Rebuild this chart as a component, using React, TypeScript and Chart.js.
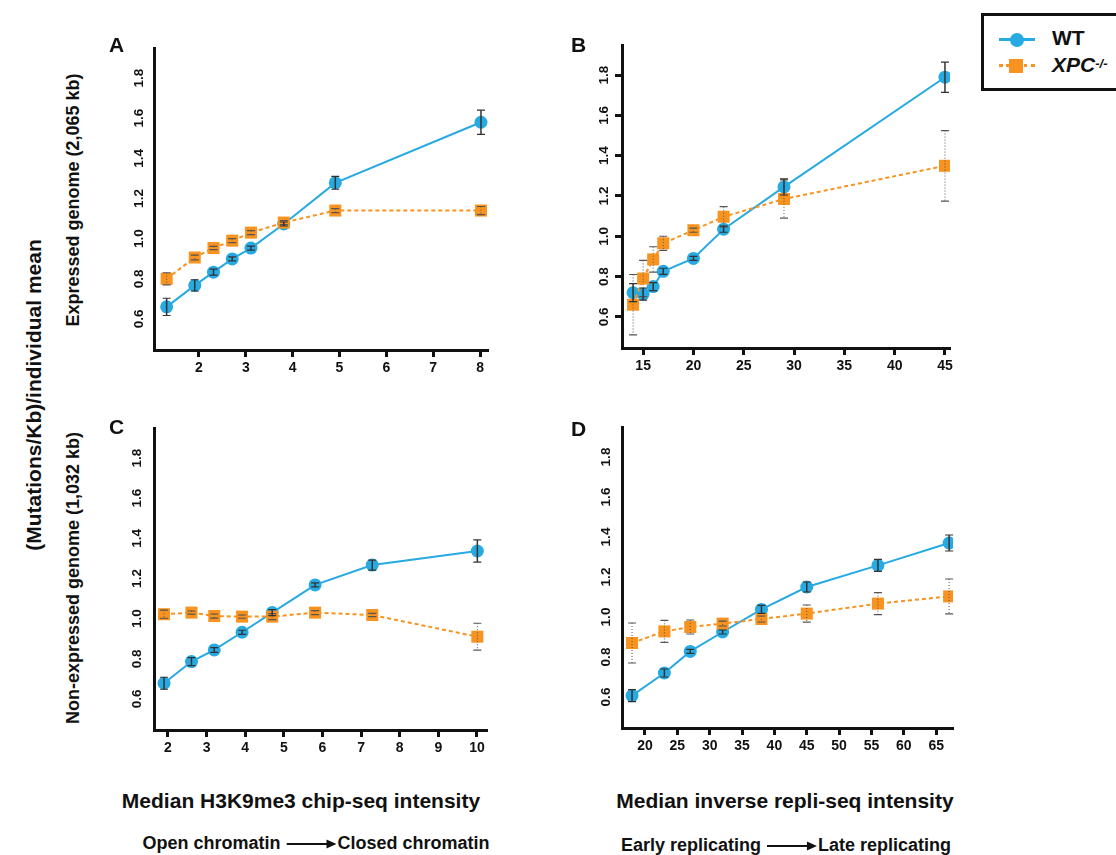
import React, { useEffect, useRef } from 'react';
import { Chart, registerables } from 'chart.js';

Chart.register(...registerables);

const WT_COLOR = '#27A9E1';
const XPC_COLOR = '#F7931E';
const FONT = '"Liberation Sans", Arial, Helvetica, sans-serif';

// ---------- data ----------
const yTicks = [0.6, 0.8, 1.0, 1.2, 1.4, 1.6, 1.8];

// Panel A: H3K9me3, expressed genome
const aX = [1.31, 1.91, 2.31, 2.71, 3.11, 3.81, 4.91, 8.02];
const aWT = [0.66, 0.767, 0.833, 0.899, 0.953, 1.073, 1.278, 1.58];
const aWTErr = [0.043, 0.028, 0.015, 0.01, 0.01, 0.01, 0.032, 0.06];
const aXPC = [0.8, 0.906, 0.953, 0.99, 1.03, 1.08, 1.14, 1.14];
const aXPCErr = [0.03, 0.012, 0.008, 0.01, 0.01, 0.01, 0.01, 0.02];
const aXTicks = [2, 3, 4, 5, 6, 7, 8];

// Panel B: repli-seq, expressed genome
const bX = [14, 15, 16, 17, 20, 23, 29, 45];
const bWT = [0.72, 0.713, 0.75, 0.826, 0.89, 1.035, 1.245, 1.79];
const bWTErr = [0.045, 0.03, 0.02, 0.015, 0.01, 0.015, 0.04, 0.075];
const bXPC = [0.66, 0.79, 0.885, 0.965, 1.03, 1.097, 1.185, 1.35];
const bXPCErr = [0.15, 0.09, 0.063, 0.035, 0.01, 0.05, 0.095, 0.175];
const bXTicks = [15, 20, 25, 30, 35, 40, 45];

// Panel C: H3K9me3, non-expressed genome
const cX = [1.9, 2.61, 3.2, 3.92, 4.7, 5.81, 7.29, 10.01];
const cWT = [0.678, 0.786, 0.844, 0.932, 1.03, 1.168, 1.267, 1.337];
const cWTErr = [0.03, 0.02, 0.012, 0.01, 0.015, 0.01, 0.025, 0.055];
const cXPC = [1.022, 1.03, 1.013, 1.01, 1.01, 1.03, 1.018, 0.91];
const cXPCErr = [0.02, 0.008, 0.01, 0.008, 0.015, 0.01, 0.008, 0.067];
const cXTicks = [2, 3, 4, 5, 6, 7, 8, 9, 10];

// Panel D: repli-seq, non-expressed genome
const dX = [18, 23, 27, 32, 38, 45, 56, 67];
const dWT = [0.607, 0.72, 0.828, 0.925, 1.038, 1.15, 1.258, 1.37];
const dWTErr = [0.03, 0.02, 0.01, 0.01, 0.02, 0.025, 0.03, 0.04];
const dXPC = [0.87, 0.928, 0.95, 0.967, 0.99, 1.017, 1.067, 1.103];
const dXPCErr = [0.1, 0.055, 0.035, 0.012, 0.015, 0.043, 0.055, 0.087];
const dXTicks = [20, 25, 30, 35, 40, 45, 50, 55, 60, 65];

// ---------- error bar plugin ----------
const errorBarPlugin = {
  id: 'errorBars',
  afterDatasetsDraw(chart: any) {
    const ctx = chart.ctx;
    const ys = chart.scales.y;
    chart.data.datasets.forEach((ds: any, i: number) => {
      const meta = chart.getDatasetMeta(i);
      const errs = ds.errors;
      if (!errs) return;
      ctx.save();
      meta.data.forEach((pt: any, j: number) => {
        const v = ds.data[j].y;
        const e = errs[j];
        const x = pt.x;
        const y1 = ys.getPixelForValue(v + e);
        const y2 = ys.getPixelForValue(v - e);
        ctx.strokeStyle = ds.errorColor;
        ctx.lineWidth = ds.errorWidth;
        ctx.setLineDash(ds.errorDash);
        ctx.beginPath();
        ctx.moveTo(x, y1);
        ctx.lineTo(x, y2);
        ctx.stroke();
        ctx.setLineDash([]);
        ctx.lineWidth = 1.2;
        ctx.beginPath();
        ctx.moveTo(x - 4, y1);
        ctx.lineTo(x + 4, y1);
        ctx.moveTo(x - 4, y2);
        ctx.lineTo(x + 4, y2);
        ctx.stroke();
      });
      ctx.restore();
    });
  },
};

type PanelProps = {
  area: { left: number; top: number; right: number; bottom: number };
  xs: number[];
  wt: number[];
  wtErr: number[];
  xpc: number[];
  xpcErr: number[];
  xMin: number;
  xMax: number;
  xTicks: number[];
  yTickMarks: boolean;
  yLabelPad: number;
};

const PAD_TOP = 20;
const PAD_RIGHT = 15;
const Y_W = 54;
const X_H = 35;

function Panel(p: PanelProps) {
  const ref = useRef<HTMLCanvasElement>(null);
  const w = p.area.right - p.area.left + Y_W + PAD_RIGHT;
  const h = p.area.bottom - p.area.top + PAD_TOP + X_H;
  useEffect(() => {
    if (!ref.current) return;
    const chart = new Chart(ref.current, {
      type: 'line',
      data: {
        datasets: [
          {
            label: 'XPC-/-',
            data: p.xs.map((x, i) => ({ x, y: p.xpc[i] })),
            borderColor: XPC_COLOR,
            backgroundColor: XPC_COLOR,
            borderWidth: 2,
            borderDash: [4, 3],
            pointStyle: 'rect',
            pointRadius: 8.5,
            pointBorderWidth: 0,
            pointBackgroundColor: XPC_COLOR,
            tension: 0,
            errors: p.xpcErr,
            errorColor: '#555555',
            errorWidth: 1,
            errorDash: [1, 2],
          } as any,
          {
            label: 'WT',
            data: p.xs.map((x, i) => ({ x, y: p.wt[i] })),
            borderColor: WT_COLOR,
            backgroundColor: WT_COLOR,
            borderWidth: 2,
            pointStyle: 'circle',
            pointRadius: 6.5,
            pointBorderWidth: 0,
            pointBackgroundColor: WT_COLOR,
            tension: 0,
            errors: p.wtErr,
            errorColor: '#333333',
            errorWidth: 1.5,
            errorDash: [],
          } as any,
        ],
      },
      options: {
        animation: false,
        responsive: false,
        devicePixelRatio: 1,
        layout: { padding: { top: PAD_TOP, right: PAD_RIGHT, left: 0, bottom: 0 } },
        plugins: { legend: { display: false }, tooltip: { enabled: false } },
        scales: {
          x: {
            type: 'linear',
            min: p.xMin,
            max: p.xMax,
            afterBuildTicks: (s: any) => {
              s.ticks = p.xTicks.map((v) => ({ value: v }));
            },
            afterFit: (s: any) => {
              s.height = X_H;
            },
            grid: {
              display: true,
              drawOnChartArea: false,
              drawTicks: true,
              tickLength: 7,
              tickWidth: 3,
              tickColor: '#111',
            },
            border: { display: true, color: '#111', width: 3 },
            ticks: {
              font: { family: FONT, size: 14, weight: 'bold' },
              color: '#111',
              padding: 3,
              minRotation: 0,
              maxRotation: 0,
              autoSkip: false,
              callback: (v: any) => String(v),
            },
          },
          y: {
            type: 'linear',
            min: 0.445,
            max: 1.95,
            afterBuildTicks: (s: any) => {
              s.ticks = yTicks.map((v) => ({ value: v }));
            },
            afterFit: (s: any) => {
              s.width = Y_W;
            },
            grid: {
              display: p.yTickMarks,
              drawOnChartArea: false,
              drawTicks: p.yTickMarks,
              tickLength: 7,
              tickWidth: 3,
              tickColor: '#111',
            },
            border: { display: true, color: '#111', width: 3 },
            ticks: {
              font: { family: FONT, size: 13.5, weight: 'bold' },
              color: '#111',
              minRotation: 90,
              maxRotation: 90,
              crossAlign: 'center',
              padding: p.yLabelPad,
              autoSkip: false,
              callback: (v: any) => Number(v).toFixed(1),
            },
          },
        },
      } as any,
      plugins: [errorBarPlugin],
    });
    return () => chart.destroy();
  }, []);
  return (
    <canvas
      ref={ref}
      width={w}
      height={h}
      style={{
        position: 'absolute',
        left: p.area.left - Y_W,
        top: p.area.top - PAD_TOP,
        width: w,
        height: h,
      }}
    />
  );
}

const abs = (extra: React.CSSProperties): React.CSSProperties => ({
  position: 'absolute',
  fontFamily: FONT,
  fontWeight: 'bold',
  color: '#111',
  whiteSpace: 'nowrap',
  ...extra,
});

function Centered({ x, y, size, rotate, children }: any) {
  return (
    <div
      style={abs({
        left: x,
        top: y,
        fontSize: size,
        lineHeight: 1,
        transform: `translate(-50%, -50%)${rotate ? ' rotate(-90deg)' : ''}`,
      })}
    >
      {children}
    </div>
  );
}

function Arrow() {
  return (
    <svg width="50" height="10" style={{ display: 'inline-block', verticalAlign: 'middle', margin: '0 1px 0 6px' }}>
      <line x1="0" y1="5" x2="42" y2="5" stroke="#111" strokeWidth="2" />
      <polygon points="40,0.5 50,5 40,9.5" fill="#111" />
    </svg>
  );
}

export default function App() {
  return (
    <div
      style={{
        position: 'fixed',
        left: 0,
        top: 0,
        width: 1116,
        height: 855,
        overflow: 'hidden',
        background: '#fff',
      }}
    >
      <Panel
        area={{ left: 154, top: 48, right: 488, bottom: 350 }}
        xs={aX}
        wt={aWT}
        wtErr={aWTErr}
        xpc={aXPC}
        xpcErr={aXPCErr}
        xMin={1.04}
        xMax={8.17}
        xTicks={aXTicks}
        yTickMarks={false}
        yLabelPad={5}
      />
      <Panel
        area={{ left: 622, top: 45, right: 950, bottom: 348 }}
        xs={bX}
        wt={bWT}
        wtErr={bWTErr}
        xpc={bXPC}
        xpcErr={bXPCErr}
        xMin={12.9}
        xMax={45.5}
        xTicks={bXTicks}
        yTickMarks={true}
        yLabelPad={1}
      />
      <Panel
        area={{ left: 154, top: 428, right: 487, bottom: 730 }}
        xs={cX}
        wt={cWT}
        wtErr={cWTErr}
        xpc={cXPC}
        xpcErr={cXPCErr}
        xMin={1.64}
        xMax={10.26}
        xTicks={cXTicks}
        yTickMarks={false}
        yLabelPad={7}
      />
      <Panel
        area={{ left: 622, top: 427, right: 953, bottom: 728 }}
        xs={dX}
        wt={dWT}
        wtErr={dWTErr}
        xpc={dXPC}
        xpcErr={dXPCErr}
        xMin={16.45}
        xMax={67.6}
        xTicks={dXTicks}
        yTickMarks={false}
        yLabelPad={6}
      />

      {/* panel letters */}
      <div style={abs({ left: 109, top: 33, fontSize: 21 })}>A</div>
      <div style={abs({ left: 571, top: 33, fontSize: 21 })}>B</div>
      <div style={abs({ left: 109, top: 415, fontSize: 21 })}>C</div>
      <div style={abs({ left: 571, top: 417, fontSize: 21 })}>D</div>

      {/* left titles */}
      <Centered x={33} y={395} size={21} rotate>
        (Mutations/Kb)/individual mean
      </Centered>
      <Centered x={73} y={200} size={18} rotate>
        Expressed genome (2,065 kb)
      </Centered>
      <Centered x={73} y={578} size={18} rotate>
        Non-expressed genome (1,032 kb)
      </Centered>

      {/* bottom titles */}
      <Centered x={301} y={800} size={21}>
        Median H3K9me3 chip-seq intensity
      </Centered>
      <Centered x={785} y={800} size={21}>
        Median inverse repli-seq intensity
      </Centered>
      <Centered x={316} y={843} size={18}>
        Open chromatin
        <Arrow />
        Closed chromatin
      </Centered>
      <Centered x={786} y={845} size={18}>
        Early replicating
        <Arrow />
        Late replicating
      </Centered>

      {/* legend */}
      <div
        style={{
          position: 'absolute',
          left: 981,
          top: 13,
          width: 160,
          height: 78,
          border: '3px solid #111',
          boxSizing: 'border-box',
        }}
      />
      <div style={{ position: 'absolute', left: 999, top: 38, width: 36, height: 2.5, background: WT_COLOR }} />
      <div
        style={{
          position: 'absolute',
          left: 1009.5,
          top: 32.5,
          width: 14,
          height: 14,
          borderRadius: '50%',
          background: WT_COLOR,
        }}
      />
      <div
        style={{
          position: 'absolute',
          left: 999,
          top: 64,
          width: 36,
          height: 0,
          borderTop: `3px dotted ${XPC_COLOR}`,
        }}
      />
      <div
        style={{ position: 'absolute', left: 1009, top: 58.5, width: 14, height: 14, background: XPC_COLOR }}
      />
      <div style={abs({ left: 1052, top: 28, fontSize: 21, lineHeight: '20px' })}>WT</div>
      <div style={abs({ left: 1052, top: 55, fontSize: 21, lineHeight: '20px', fontStyle: 'italic' })}>
        XPC<sup style={{ fontSize: 13, verticalAlign: 'top', position: 'relative', top: -1 }}>-/-</sup>
      </div>
    </div>
  );
}
